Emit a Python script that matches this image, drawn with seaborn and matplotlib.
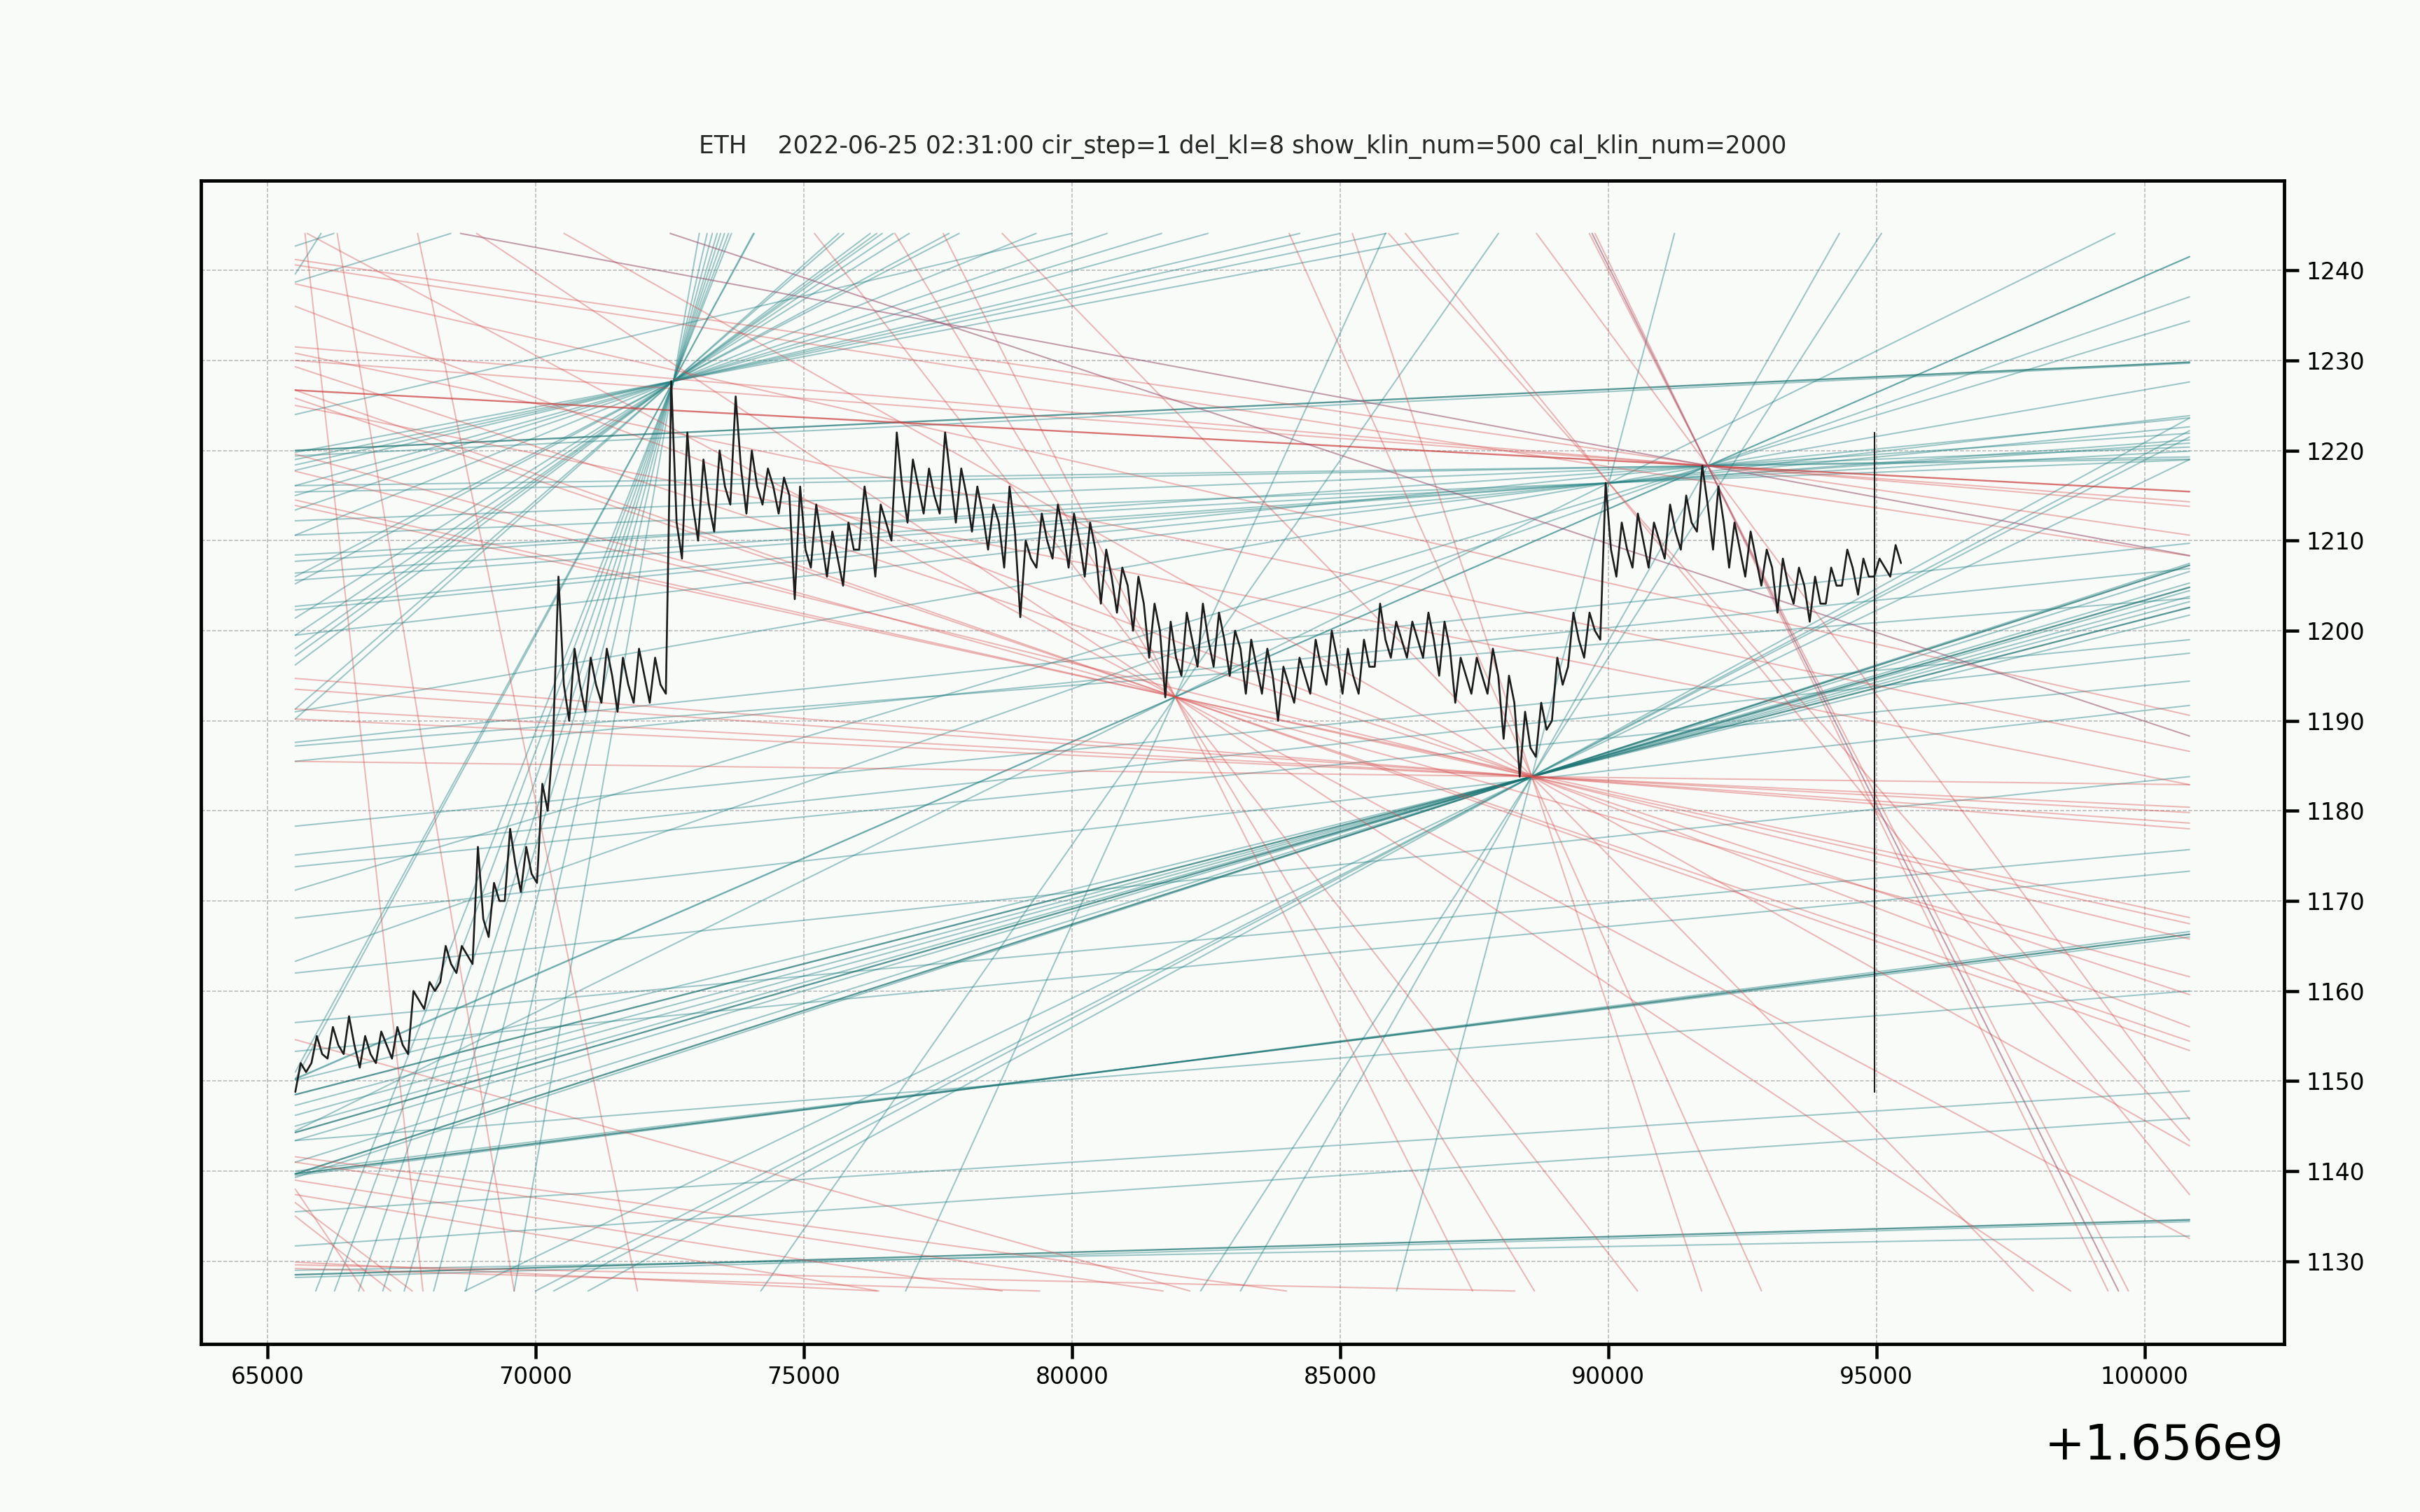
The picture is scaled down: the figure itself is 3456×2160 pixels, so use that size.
import numpy as np
import pandas as pd
import matplotlib.pyplot as plt
import seaborn as sns

T_BASE = 1656000000  # x axis is unix time, shown with the +1.656e9 offset

# ETH 1m k-lines, grouped in 100 blocks of 5 min: low / high / close of each block
kl_low = [1148.8, 1152, 1152.5, 1153, 1151.5, 1152, 1152.5, 1153, 1158, 1161,
          1162, 1163, 1166, 1170, 1171, 1172, 1188, 1190, 1191, 1192,
          1191, 1192, 1192, 1193, 1208, 1210, 1211, 1214, 1213, 1214,
          1213, 1203.5, 1207, 1206, 1205, 1209, 1206, 1210, 1212, 1213,
          1213, 1212, 1211, 1209, 1207, 1201.5, 1207, 1208, 1207, 1206,
          1203, 1202, 1200, 1197, 1192.6, 1195, 1196, 1196, 1195, 1193,
          1193, 1190, 1192, 1193, 1194, 1193, 1193, 1196, 1197, 1197,
          1197, 1195, 1192, 1193, 1193, 1188, 1183.8, 1186, 1190, 1196,
          1197, 1199, 1206, 1207, 1207, 1208, 1209, 1211, 1209, 1207,
          1206, 1205, 1202, 1203, 1201, 1203, 1205, 1204, 1206, 1206]
kl_high = [1152, 1155, 1156, 1157.2, 1155, 1155.5, 1156, 1160, 1161, 1165,
           1165, 1176, 1172, 1178, 1176, 1183, 1206, 1198, 1197, 1198,
           1197, 1198, 1197, 1227.7, 1222, 1219, 1220, 1226, 1220, 1218,
           1217, 1216, 1214, 1211, 1212, 1216, 1214, 1222, 1219, 1218,
           1222, 1218, 1216, 1214, 1216, 1210, 1213, 1214, 1213, 1212,
           1209, 1207, 1206, 1203, 1201, 1202, 1203, 1202, 1200, 1199,
           1198, 1196, 1197, 1199, 1200, 1198, 1199, 1203, 1201, 1201,
           1202, 1201, 1197, 1197, 1198, 1195, 1191, 1192, 1197, 1202,
           1202, 1216.4, 1212, 1213, 1212, 1214, 1215, 1218.3, 1216, 1212,
           1211, 1209, 1208, 1207, 1206, 1207, 1209, 1208, 1208, 1209.5]
kl_close = [1151, 1153, 1154, 1154, 1153, 1154, 1154, 1159, 1160, 1163,
            1164, 1168, 1170, 1174, 1173, 1180, 1194, 1194, 1194, 1195,
            1194, 1195, 1194, 1212, 1214, 1214, 1216, 1218, 1216, 1216,
            1215, 1209, 1210, 1208, 1209, 1212, 1212, 1216, 1216, 1215,
            1217, 1215, 1213, 1212, 1211, 1208, 1210, 1211, 1210, 1209,
            1206, 1205, 1203, 1200, 1197, 1199, 1199, 1199, 1198, 1196,
            1195, 1194, 1195, 1196, 1197, 1195, 1196, 1199, 1199, 1199,
            1199, 1198, 1195, 1195, 1195, 1192, 1187, 1189, 1194, 1199,
            1200, 1209, 1209, 1210, 1210, 1211, 1212, 1214, 1212, 1209,
            1208, 1207, 1205, 1205, 1203, 1205, 1207, 1206, 1207, 1207.5]
kl_first, kl_last = 65520, 95460
marker_t, marker_lo, marker_hi = 94970, 1148.8, 1222.0

# extent of the trend lines
line_t0, line_t1 = 65520, 100840
line_lo, line_hi = 1126.7, 1244.1

# turning points the trend lines go through
piv_A = (72570, 1227.7)
piv_C = (81926, 1192.65)
piv_B = (88575, 1183.8)
piv_D = (90014, 1216.4)
piv_E = (91857, 1218.3)

# where each fan line meets the left edge / right edge / top / bottom
fanA_teal_left = [1219.8, 1219.0, 1218.4, 1217.8, 1216.1, 1215.0, 1213.4, 1210.6,
                  1206.0, 1205.2, 1201.4, 1199.5, 1198.0, 1197.2, 1196.2, 1191.3,
                  1190.2, 1151.0, 1150.2]
fanA_teal_bottom = [65900, 66250, 66700, 67150, 67550, 68100, 68700, 69600]
fanC_red_left = [1226.7, 1225.8, 1219.6, 1213.9]
fanC_red_top = [65740, 68900, 75200, 76700, 77600]
fanC_teal_bottom = [74200, 76900]
fanB_teal_left = [1150.1, 1148.5, 1147.3, 1146.2, 1145.0, 1144.3, 1143.4, 1141.0,
                  1139.7, 1139.3]
fanB_teal_right = [1219.0, 1221.5, 1222.2, 1223.6]
fanB_teal_bottom = [82400]
fanB_red_left = [1194.7, 1193.5, 1191.3, 1214.5, 1217.7, 1236.0, 1229.3]
fanB_red_right = [1182.9, 1180.4]
fanB_red_top = [70530, 78700, 84050, 85230]
fanD_teal_left = [1210.6, 1208.4, 1206.4, 1205.6, 1202.3, 1199.5]
fanD_red_right = [1143.4, 1137.4]
fanE_teal_left = [1216.1, 1215.4, 1212.2, 1207.7, 1202.7, 1191.0, 1171.2, 1163.3, 1150.2]
fanE_red_left = [1226.7, 1230.0, 1231.5]
fanE_red_top = [68600, 89700]
fanE_red_bottom = [99320, 99700, 103200]

# other lines: left edge value -> right edge value
teal_left = [1220.0, 1219.4, 1187.6, 1185.5, 1178.3, 1175.1, 1173.8, 1168.1, 1162.0,
             1156.5, 1153.3, 1139.7, 1139.5, 1140.0, 1143.4, 1135.5, 1131.7, 1128.5,
             1128.2, 1129.0, 1187.2]
teal_right = [1229.8, 1229.7, 1209.7, 1206.9, 1199.0, 1197.5, 1194.4, 1191.7, 1183.8,
              1175.7, 1173.3, 1166.3, 1166.6, 1166.0, 1160.0, 1148.9, 1145.9, 1134.6,
              1134.4, 1132.8, 1203.6]
teal_dark = [0, 11, 17]
# teal lines from the left edge up to the top
teal_up_left = [1242.7, 1239.6, 1238.7, 1224.0]
teal_up_top = [66240, 66000, 68420, 80000]
red_left = [1241.2, 1240.6, 1238.5, 1230.8, 1225.0]
red_right = [1210.6, 1208.3, 1190.6, 1186.6, 1182.9]
# red lines from the left edge down to the bottom
red_down_left = [1154.6, 1141.6, 1141.0, 1139.0, 1137.4, 1136.5, 1138.0, 1135.0,
                 1129.6, 1129.2, 1129.9]
red_down_bottom = [82200, 84000, 81700, 78700, 76400, 67700, 66800, 67300,
                   88260, 79400, 76362]
# red lines from the top down to the bottom
red_steep_top = [65700, 66300, 67800]
red_steep_bottom = [67900, 69600, 71900]
red_top_t, red_right_dark = 72510, 1188.3


def left(v):
    return (line_t0, v)


def right(v):
    return (line_t1, v)


def top(t):
    return (t, line_hi)


def bottom(t):
    return (t, line_lo)


def clip_line(p, q):
    (t1, y1), (t2, y2) = p, q
    s = (y2 - y1) / (t2 - t1)
    ta, tb = line_t0, line_t1
    if s:
        c1 = t1 + (line_lo - y1) / s
        c2 = t1 + (line_hi - y1) / s
        ta, tb = max(ta, min(c1, c2)), min(tb, max(c1, c2))
    return [ta, tb], [y1 + s * (ta - t1), y1 + s * (tb - t1)]


lines = []
lines += [(piv_A, left(v), 'teal') for v in fanA_teal_left]
lines += [(piv_A, bottom(t), 'teal') for t in fanA_teal_bottom]
lines += [(piv_C, left(v), 'red') for v in fanC_red_left]
lines += [(piv_C, top(t), 'red') for t in fanC_red_top]
lines += [(piv_C, bottom(t), 'teal') for t in fanC_teal_bottom]
lines += [(piv_C, piv_D, 'teal'), (piv_C, piv_E, 'teal')]
lines += [(piv_B, left(v), 'teal_dark' if i in (1, 5, 8) else 'teal')
          for i, v in enumerate(fanB_teal_left)]
lines += [(piv_B, right(v), 'teal') for v in fanB_teal_right]
lines += [(piv_B, bottom(t), 'teal') for t in fanB_teal_bottom]
lines += [(piv_B, piv_D, 'teal'), (piv_B, piv_E, 'teal')]
lines += [(piv_B, left(v), 'red') for v in fanB_red_left]
lines += [(piv_B, right(v), 'red') for v in fanB_red_right]
lines += [(piv_B, top(t), 'red') for t in fanB_red_top]
lines += [(piv_D, left(v), 'teal') for v in fanD_teal_left]
lines += [(piv_D, right(v), 'red') for v in fanD_red_right]
lines += [(piv_E, left(v), 'teal') for v in fanE_teal_left]
lines += [(piv_E, left(v), 'red_dark' if i == 0 else 'red') for i, v in enumerate(fanE_red_left)]
lines += [(piv_E, top(t), 'mauve') for t in fanE_red_top]
lines += [(piv_E, bottom(t), 'red') for t in fanE_red_bottom]
lines += [(left(a), right(b), 'teal_dark' if i in teal_dark else 'teal')
          for i, (a, b) in enumerate(zip(teal_left, teal_right))]
lines += [(left(a), top(b), 'teal') for a, b in zip(teal_up_left, teal_up_top)]
lines += [(left(a), right(b), 'red') for a, b in zip(red_left, red_right)]
lines += [(left(a), bottom(b), 'red') for a, b in zip(red_down_left, red_down_bottom)]
lines += [(top(a), bottom(b), 'red') for a, b in zip(red_steep_top, red_steep_bottom)]
lines += [(top(red_top_t), right(red_right_dark), 'mauve')]

rows = []
for i, (p, q, kind) in enumerate(lines):
    ts, ys = clip_line(p, q)
    for t, y in zip(ts, ys):
        rows.append({'t': T_BASE + t, 'price': y, 'line': i, 'kind': kind})
df_lines = pd.DataFrame(rows)

kl_price = np.ravel(np.column_stack([kl_low, kl_high, kl_close]))
df_kl = pd.DataFrame({'t': T_BASE + np.linspace(kl_first, kl_last, len(kl_price)),
                      'price': kl_price})
df_mark = pd.DataFrame({'t': [T_BASE + marker_t] * 2, 'price': [marker_lo, marker_hi]})

sns.set_theme(style='ticks')
plt.rcParams['font.family'] = ['DejaVu Sans']
bg = '#f9fbf9'
fig = plt.figure(figsize=(16, 10), dpi=216, facecolor=bg)
ax = fig.add_axes([0.0829, 0.1112, 0.861, 0.7694])
ax.set_facecolor(bg)

styles = {'teal': ('#1f7f80', 0.42, 0.7), 'teal_dark': ('#17706f', 0.7, 0.8),
          'red': ('#d64b4b', 0.38, 0.7), 'red_dark': ('#c83c3c', 0.7, 0.8),
          'mauve': ('#98506e', 0.55, 0.7)}
for kind, (col, alpha, lw) in styles.items():
    sub = df_lines[df_lines['kind'] == kind]
    if len(sub):
        sns.lineplot(data=sub, x='t', y='price', units='line', estimator=None,
                     sort=False, color=col, alpha=alpha, lw=lw, ax=ax, legend=False)

sns.lineplot(data=df_kl, x='t', y='price', estimator=None, sort=False,
             color='#1c1c1c', lw=0.9, ax=ax)
sns.lineplot(data=df_mark, x='t', y='price', estimator=None, sort=False,
             color='#1c1c1c', lw=0.7, ax=ax)

ax.set_xticks(T_BASE + np.arange(65000, 100001, 5000))
ax.set_yticks(np.arange(1130, 1241, 10))
ax.yaxis.tick_right()
ax.set_xlabel('')
ax.set_ylabel('')
ax.grid(True, ls='--', lw=0.5, color='#b5b5b5')
ax.set_axisbelow(True)
for sp in ax.spines.values():
    sp.set_visible(True)
    sp.set_linewidth(1.6)
    sp.set_color('black')
ax.tick_params(axis='both', labelsize=11, length=7, width=1.5, colors='black')
ax.xaxis.OFFSETTEXTPAD = 16
ax.xaxis.get_offset_text().set_fontsize(23)
ax.set_title('ETH    2022-06-25 02:31:00 cir_step=1 del_kl=8 show_klin_num=500 cal_klin_num=2000',
             fontsize=11.5, pad=13)

fig.savefig('out.png', dpi=216, facecolor=bg)
